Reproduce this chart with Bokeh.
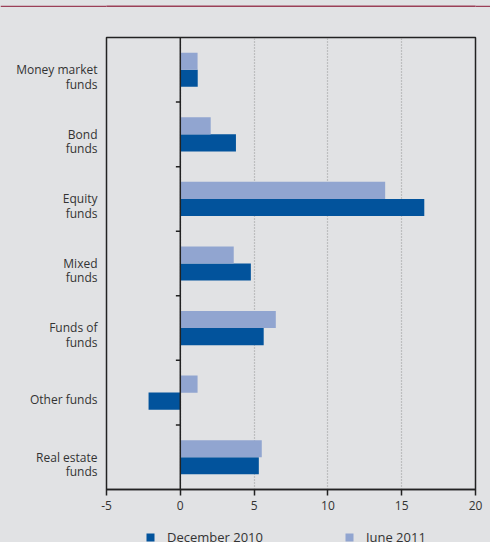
from bokeh.plotting import figure
from bokeh.models import FixedTicker, Legend, LegendItem, Span, ColumnDataSource
from bokeh.layouts import column
from bokeh.embed import file_html
from bokeh.resources import INLINE

categories = ["Money market\nfunds", "Bond\nfunds", "Equity\nfunds", "Mixed\nfunds",
              "Funds of\nfunds", "Other funds", "Real estate\nfunds"]
dec_2010 = [1.18, 3.77, 16.53, 4.78, 5.65, -2.15, 5.32]
jun_2011 = [1.17, 2.06, 13.88, 3.62, 6.47, 1.17, 5.52]
series_names = ["December 2010", "June 2011"]
x_ticks = [-5, 0, 5, 10, 15, 20]
x_tick_labels = ["-5", "0", "5", "10", "15", "20"]

BG = "#e1e2e4"
DARK = "#02539c"
LIGHT = "#91a5d0"
BANNER = "#9b4058"
TXT = "#333333"
FONT = "Open Sans"

n = len(categories)
pos = [n - 1 - i for i in range(n)]
src = ColumnDataSource(dict(
    y_dec=[p_ - 0.132 for p_ in pos],
    y_jun=[p_ + 0.132 for p_ in pos],
    dec=dec_2010, jun=jun_2011,
))

p = figure(width=490, height=512, output_backend="svg", toolbar_location=None,
           x_range=(x_ticks[0], x_ticks[-1]), y_range=(-0.5, n - 0.5),
           background_fill_color=BG, border_fill_color=BG,
           min_border_left=106, min_border_right=15, min_border_top=30, min_border_bottom=30)
p.outline_line_color = "#222222"
p.outline_line_width = 1.5

p.hbar(y="y_dec", left=0, right="dec", height=0.265, source=src, fill_color=DARK, line_color=None)
p.hbar(y="y_jun", left=0, right="jun", height=0.265, source=src, fill_color=LIGHT, line_color=None)

# zero line and category separator ticks
p.add_layout(Span(location=0, dimension="height", line_color="#222222", line_width=1.5))
bounds = [k + 0.5 for k in range(n - 1)]
tick_len = 0.3
p.segment(x0=[-tick_len] * len(bounds), x1=[0] * len(bounds), y0=bounds, y1=bounds,
          line_color="#222222", line_width=1.5)

# x axis
p.xaxis.ticker = FixedTicker(ticks=x_ticks)
p.xaxis.major_label_overrides = {t: s for t, s in zip(x_ticks, x_tick_labels)}
p.xaxis.axis_line_color = "#222222"
p.xaxis.axis_line_width = 1.5
p.xaxis.major_tick_line_color = "#222222"
p.xaxis.major_tick_line_width = 1.5
p.xaxis.major_tick_in = 0
p.xaxis.major_tick_out = 6
p.xaxis.minor_tick_line_color = None
p.xaxis.major_label_text_font = FONT
p.xaxis.major_label_text_font_size = "12px"
p.xaxis.major_label_text_color = TXT
p.xaxis.major_label_standoff = 5

# y axis (labels sit slightly below the category centre)
label_pos = [round(pp - 0.11, 3) for pp in pos]
p.yaxis.ticker = FixedTicker(ticks=label_pos)
p.yaxis.major_label_overrides = {lp: c for lp, c in zip(label_pos, categories)}
p.yaxis.axis_line_color = None
p.yaxis.major_tick_line_color = None
p.yaxis.major_tick_out = 0
p.yaxis.major_tick_in = 0
p.yaxis.minor_tick_line_color = None
p.yaxis.major_label_text_font = FONT
p.yaxis.major_label_text_font_size = "12px"
p.yaxis.major_label_text_color = TXT
p.yaxis.major_label_text_line_height = 0.86
p.yaxis.major_label_standoff = 9
p.yaxis.major_label_text_align = "right"

p.ygrid.grid_line_color = None
p.xgrid.grid_line_color = "#9a9a9a"
p.xgrid.grid_line_dash = "1 2"
p.xgrid.grid_line_width = 1.2

# title banner strip on top
bn = figure(width=490, height=7, output_backend="svg", toolbar_location=None,
            x_axis_type=None, y_axis_type=None, min_border=0,
            background_fill_color=BANNER, border_fill_color=BANNER)
bn.outline_line_color = None
bn.grid.visible = False
bn.title.visible = False

# legend strip at the bottom (cut by the page edge as in the original);
# its proxy bars use the same data but lie outside this strip's view
lf = figure(width=490, height=23, output_backend="svg", toolbar_location=None,
            x_axis_type=None, y_axis_type=None, min_border=0,
            x_range=(100, 101), y_range=(100, 101),
            background_fill_color=BG, border_fill_color=BG,
            styles={"background-color": BG})
lf.outline_line_color = None
lf.grid.visible = False
lf.title.visible = False
k_dec = lf.hbar(y="y_dec", left=0, right="dec", height=0.265, source=src, fill_color=DARK, line_color=None)
k_jun = lf.hbar(y="y_jun", left=0, right="jun", height=0.265, source=src, fill_color=LIGHT, line_color=None)
legend = Legend(items=[LegendItem(label=series_names[0], renderers=[k_dec]),
                       LegendItem(label=series_names[1], renderers=[k_jun])],
                orientation="horizontal", location=(39, -5),
                background_fill_alpha=0, border_line_color=None,
                glyph_width=10, glyph_height=10, label_standoff=12, spacing=68,
                label_width=109, label_height=20,
                padding=0, margin=0,
                label_text_font=FONT, label_text_font_size="13px", label_text_color=TXT)
lf.add_layout(legend)

layout = column(bn, p, lf, spacing=0, styles={"background-color": BG})
open("out.html", "w").write(file_html(layout, INLINE))
